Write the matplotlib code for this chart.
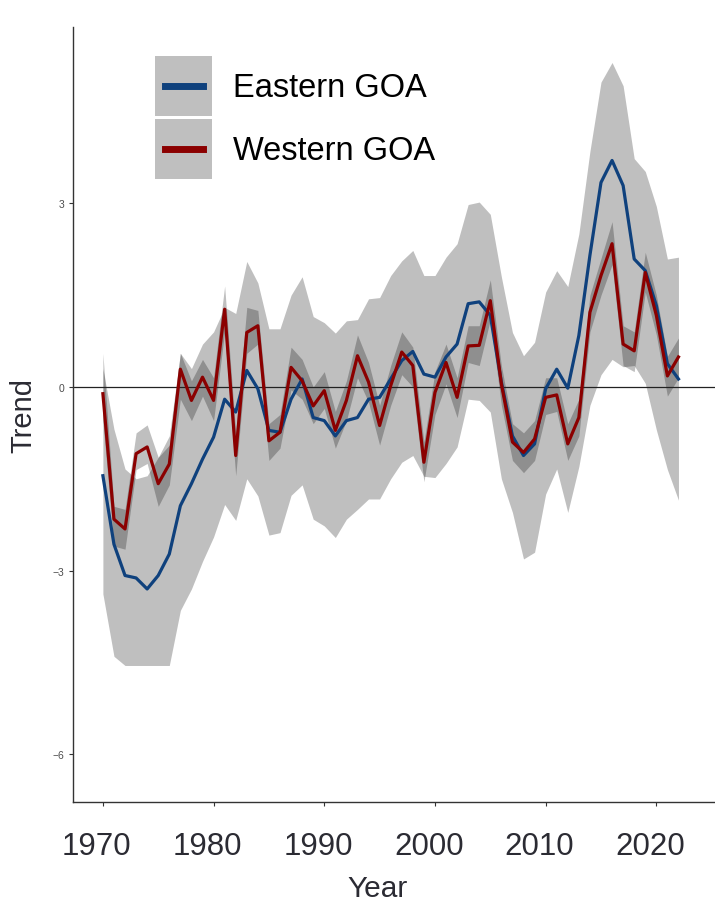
import numpy as np
import matplotlib
matplotlib.use("Agg")
import matplotlib.pyplot as plt
import matplotlib.transforms as mtransforms
from matplotlib.patches import Patch
from matplotlib.lines import Line2D
from matplotlib.legend_handler import HandlerLine2D

plt.rcParams['font.family'] = ['Liberation Sans', 'DejaVu Sans']

years = np.arange(1970, 2023)

# Eastern GOA trend and interval
east = [-1.45, -2.57, -3.08, -3.12, -3.30, -3.08, -2.73, -1.94, -1.58, -1.18,
        -0.82, -0.20, -0.41, 0.27, -0.03, -0.71, -0.74, -0.20, 0.13, -0.50,
        -0.55, -0.80, -0.55, -0.50, -0.20, -0.17, 0.13, 0.43, 0.58, 0.21,
        0.16, 0.49, 0.70, 1.36, 1.39, 1.17, 0.08, -0.80, -1.12, -0.93,
        -0.03, 0.29, -0.02, 0.84, 2.15, 3.34, 3.70, 3.29, 2.09, 1.90,
        1.33, 0.38, 0.13]
east_lo = [-3.38, -4.40, -4.55, -4.55, -4.55, -4.55, -4.55, -3.65, -3.30, -2.85,
           -2.45, -1.92, -2.18, -1.50, -1.78, -2.42, -2.38, -1.77, -1.60, -2.16,
           -2.27, -2.46, -2.16, -2.00, -1.83, -1.83, -1.50, -1.23, -1.12, -1.46,
           -1.48, -1.25, -0.98, -0.20, -0.22, -0.41, -1.50, -2.05, -2.81, -2.70,
           -1.75, -1.34, -2.05, -1.30, -0.30, 0.20, 0.45, 0.33, 0.35, 0.06,
           -0.70, -1.35, -1.85]
east_hi = [0.30, -0.69, -1.34, -1.50, -1.45, -1.15, -0.80, 0.55, 0.30, 0.70,
           0.90, 1.30, 1.20, 2.05, 1.70, 0.95, 0.95, 1.50, 1.80, 1.15,
           1.05, 0.88, 1.08, 1.10, 1.44, 1.46, 1.82, 2.06, 2.23, 1.82,
           1.82, 2.12, 2.34, 2.98, 3.02, 2.82, 1.80, 0.89, 0.51, 0.73,
           1.55, 1.90, 1.64, 2.50, 3.85, 4.98, 5.30, 4.92, 3.73, 3.52,
           2.95, 2.09, 2.12]

# Western GOA trend and interval
west = [-0.11, -2.16, -2.32, -1.09, -0.98, -1.58, -1.26, 0.29, -0.22, 0.16,
        -0.22, 1.27, -1.12, 0.89, 1.00, -0.88, -0.74, 0.32, 0.10, -0.31,
        -0.06, -0.71, -0.22, 0.51, 0.08, -0.63, 0.02, 0.57, 0.35, -1.23,
        -0.09, 0.40, -0.17, 0.67, 0.68, 1.41, 0.05, -0.90, -1.07, -0.85,
        -0.17, -0.13, -0.93, -0.50, 1.22, 1.82, 2.34, 0.70, 0.59, 1.87,
        1.17, 0.18, 0.49]
west_lo = [-0.55, -2.60, -2.65, -1.35, -1.25, -1.95, -1.60, -0.20, -0.55, -0.15,
           -0.55, 0.90, -1.45, 0.55, 0.70, -1.20, -1.00, -0.05, -0.20, -0.60,
           -0.35, -1.00, -0.55, 0.15, -0.25, -0.95, -0.30, 0.20, 0.00, -1.55,
           -0.45, 0.05, -0.50, 0.40, 0.35, 1.10, -0.30, -1.20, -1.40, -1.20,
           -0.45, -0.40, -1.20, -0.80, 0.90, 1.50, 2.00, 0.35, 0.25, 1.55,
           0.85, -0.15, 0.15]
west_hi = [0.55, -1.95, -2.00, -0.75, -0.62, -1.15, -0.95, 0.55, 0.10, 0.45,
           0.15, 1.65, -0.75, 1.30, 1.25, -0.60, -0.45, 0.65, 0.45, 0.00,
           0.25, -0.40, 0.10, 0.85, 0.40, -0.30, 0.35, 0.90, 0.65, -0.90,
           0.25, 0.70, 0.15, 1.00, 1.00, 1.75, 0.35, -0.60, -0.75, -0.55,
           0.15, 0.15, -0.60, -0.20, 1.50, 2.10, 2.70, 1.00, 0.90, 2.20,
           1.50, 0.50, 0.80]

blue = '#0f417d'
red = '#8b0000'


class CenteredLine(HandlerLine2D):
    # keep the key line in the middle of the grey key box
    def create_artists(self, legend, orig_handle, xdescent, ydescent,
                       width, height, fontsize, trans):
        arts = super().create_artists(legend, orig_handle, xdescent, ydescent,
                                      width, height, fontsize, trans)
        for a in arts:
            a.set_ydata(np.full_like(a.get_xdata(), height / 2 - ydescent, dtype=float))
        return arts


fig = plt.figure(figsize=(7.15, 9.03), dpi=100)
ax = fig.add_axes([73 / 715, 100 / 903, 642 / 715, 775 / 903])

ax.fill_between(years, east_lo, east_hi, color='black', alpha=0.25, lw=0, zorder=1)
ax.fill_between(years, west_lo, west_hi, color='black', alpha=0.25, lw=0, zorder=1)
ax.axhline(0, color='#222222', lw=0.9, zorder=2)
ax.plot(years, east, color=blue, lw=2.3, zorder=3)
ax.plot(years, west, color=red, lw=2.3, zorder=3)

ax.set_xlim(1967.3, 2025.3)
ax.set_ylim(-6.78, 5.88)
ax.set_xticks([1970, 1980, 1990, 2000, 2010, 2020])
ax.set_yticks([-6, -3, 0, 3])

for s in ['top', 'right']:
    ax.spines[s].set_visible(False)
for s in ['left', 'bottom']:
    ax.spines[s].set_color('#333333')
    ax.spines[s].set_linewidth(1.0)

ax.tick_params(axis='x', length=3, width=0.8, color='#333333', pad=18,
               labelsize=22.5, labelcolor='#2b2b33')
ax.tick_params(axis='y', length=3, width=0.8, color='#333333', pad=3,
               labelsize=7.5, labelcolor='#4d4d4d')

# year labels sit a little left of their ticks
shift = mtransforms.ScaledTranslation(-6 / 100, 0, fig.dpi_scale_trans)
for lbl in ax.get_xticklabels():
    lbl.set_transform(lbl.get_transform() + shift)

ax.set_xlabel('Year', fontsize=21.5, color='#2b2b33')
ax.set_ylabel('Trend', fontsize=21, color='#2b2b33')
ax.xaxis.set_label_coords(0.475, -0.093)
ax.yaxis.set_label_coords(-0.056, 0.5)

handles = [
    (Patch(facecolor='#bfbfbf', edgecolor='none'), Line2D([], [], color=blue, lw=5)),
    (Patch(facecolor='#bfbfbf', edgecolor='none'), Line2D([], [], color=red, lw=5)),
]
ax.legend(handles, ['Eastern GOA', 'Western GOA'], loc='upper left',
          bbox_to_anchor=(0.128, 0.9626), frameon=False, borderpad=0,
          borderaxespad=0, prop={'size': 23.5}, numpoints=2,
          handlelength=1.75, handleheight=2.45, labelspacing=0.09,
          handletextpad=0.64, handler_map={Line2D: CenteredLine()})

fig.savefig('out.png', dpi=100)
